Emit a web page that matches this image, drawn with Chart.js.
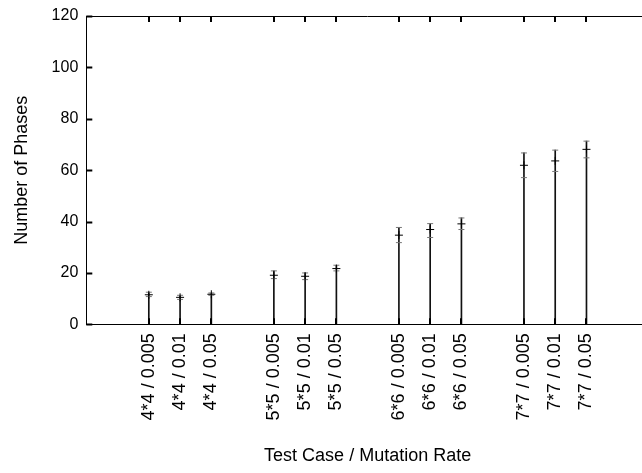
<!DOCTYPE html>
<html>
<head>
<meta charset="utf-8">
<script src="https://cdn.jsdelivr.net/npm/chart.js@4/dist/chart.umd.min.js"></script>
<style>
  html, body { margin: 0; padding: 0; background: #fff; overflow: hidden; }
  #wrap { width: 660px; height: 473px; }
</style>
</head>
<body>
<div id="wrap"><canvas id="chartPhases"></canvas></div>
<script>
// test case / mutation rate
const categories = ['4*4 / 0.005', '4*4 / 0.01', '4*4 / 0.05',
                    '5*5 / 0.005', '5*5 / 0.01', '5*5 / 0.05',
                    '6*6 / 0.005', '6*6 / 0.01', '6*6 / 0.05',
                    '7*7 / 0.005', '7*7 / 0.01', '7*7 / 0.05'];
const xPositions = [2, 3, 4, 6, 7, 8, 10, 11, 12, 14, 15, 16];
const means = [11.5, 10.5, 11.7, 19.1, 18.7, 21.7, 34.7, 36.9, 39.1, 61.9, 63.6, 68.1];
const highs = [12.5, 11.3, 12.2, 20.8, 20.0, 23.0, 37.7, 39.2, 41.4, 66.7, 67.8, 71.3];
const lows  = [10.8, 9.7, 11.3, 17.8, 17.4, 20.8, 31.8, 33.8, 36.9, 57.1, 59.5, 64.8];
const yTicks = [0, 20, 40, 60, 80, 100, 120];

const FONT = 'Liberation Sans, Arial, sans-serif';

// gnuplot-ish inward ticks + top border
const innerTicks = {
    id: 'innerTicks',
    afterDraw(chart) {
        const {ctx, chartArea: a, scales: {x, y}} = chart;
        ctx.save();
        ctx.strokeStyle = '#000';
        ctx.lineWidth = 1;
        ctx.beginPath();
        ctx.moveTo(a.left, a.top + 0.5);
        ctx.lineTo(a.right, a.top + 0.5);
        ctx.stroke();
        ctx.lineWidth = 2;
        ctx.beginPath();
        x.ticks.forEach(t => {
            const px = Math.round(x.getPixelForValue(t.value));
            ctx.moveTo(px, a.top); ctx.lineTo(px, a.top + 6);
            ctx.moveTo(px, a.bottom); ctx.lineTo(px, a.bottom - 6);
        });
        y.ticks.forEach(t => {
            const py = Math.round(y.getPixelForValue(t.value)) + 0.5;
            ctx.moveTo(a.left, py); ctx.lineTo(a.left + 6, py);
        });
        ctx.stroke();
        ctx.restore();
    }
};

const ctx = document.getElementById('chartPhases').getContext('2d');
const chart = new Chart(ctx, {
    type: 'bar',
    data: {
        datasets: [{
            type: 'scatter',
            data: xPositions.map((x, i) => ({x: x, y: means[i]})),
            pointStyle: 'cross',
            pointRadius: 4,
            borderColor: '#000',
            borderWidth: 1
        }, {
            type: 'scatter',
            data: xPositions.map((x, i) => ({x: x, y: highs[i]}))
                .concat(xPositions.map((x, i) => ({x: x, y: lows[i]}))),
            pointStyle: 'line',
            pointRadius: 3,
            borderColor: '#777',
            borderWidth: 1
        }, {
            type: 'bar',
            data: xPositions.map((x, i) => ({x: x, y: [0, highs[i]]})),
            barThickness: 1,
            backgroundColor: '#111'
        }]
    },
    options: {
        responsive: true,
        maintainAspectRatio: false,
        animation: false,
        layout: { padding: { top: 16, right: 11, left: 7, bottom: 2 } },
        plugins: {
            legend: { display: false },
            tooltip: { enabled: false }
        },
        scales: {
            x: {
                type: 'linear',
                offset: false,
                min: 0,
                max: 18,
                afterBuildTicks: (scale) => {
                    scale.ticks = xPositions.map(v => ({value: v}));
                },
                grid: { display: false },
                border: { display: true, color: '#000', width: 1 },
                ticks: {
                    autoSkip: false,
                    minRotation: 90,
                    maxRotation: 90,
                    padding: 1,
                    color: '#000',
                    font: { family: FONT, size: 18 },
                    callback: (v) => categories[xPositions.indexOf(v)]
                },
                title: {
                    display: true,
                    text: 'Test Case / Mutation Rate',
                    color: '#000',
                    font: { family: FONT, size: 18 },
                    padding: { top: 24 }
                }
            },
            y: {
                min: 0,
                max: 120,
                afterBuildTicks: (scale) => {
                    scale.ticks = yTicks.map(v => ({value: v}));
                },
                grid: { display: false },
                border: { display: true, color: '#000', width: 1 },
                ticks: {
                    padding: 0,
                    color: '#000',
                    font: { family: FONT, size: 16 }
                },
                title: {
                    display: true,
                    text: 'Number of Phases',
                    color: '#000',
                    font: { family: FONT, size: 18 },
                    padding: { bottom: 19 }
                }
            }
        }
    },
    plugins: [innerTicks]
});
</script>
</body>
</html>
